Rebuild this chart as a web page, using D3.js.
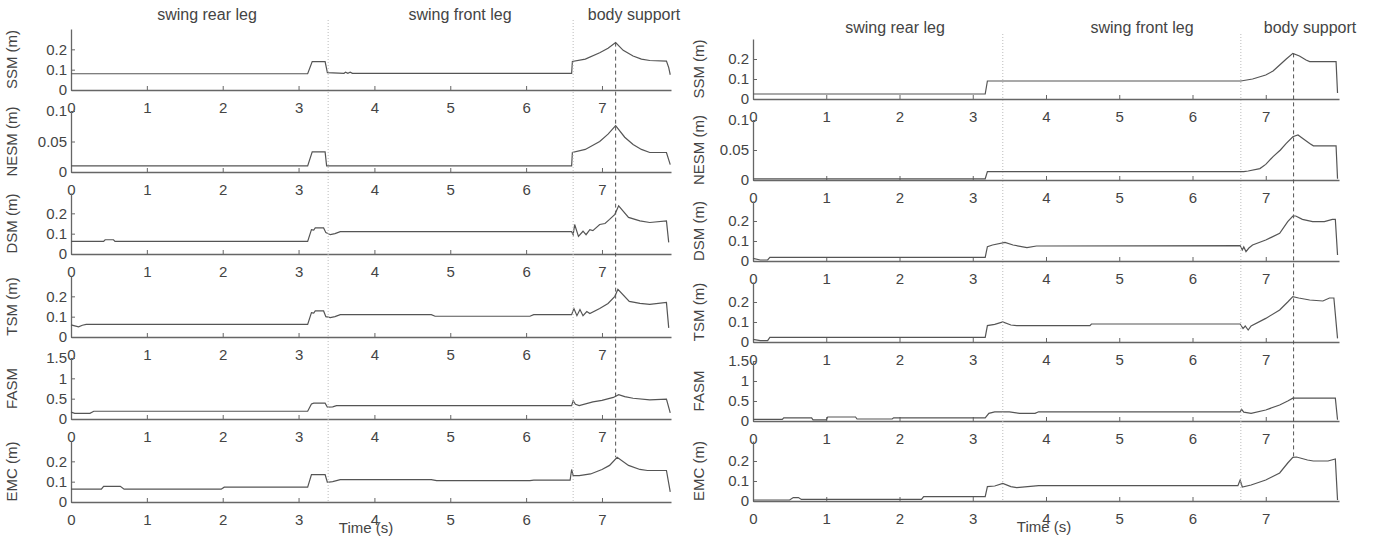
<!DOCTYPE html>
<html>
<head>
<meta charset="utf-8">
<script src="https://cdn.jsdelivr.net/npm/d3@7"></script>
<style>
  body { margin: 0; background: #fff; }
  svg text { font-family: "Liberation Sans", Arial, sans-serif; fill: #444; font-size: 15px; }
</style>
</head>
<body>
<svg id="chart" width="1375" height="542"></svg>
<script>
// Noms des lignes, domaines et graduations
const rowNames = ['SSM (m)', 'NESM (m)', 'DSM (m)', 'TSM (m)', 'FASM', 'EMC (m)'];
const rowMax = [0.3, 0.1, 0.3, 0.3, 1.5, 0.3];
const rowTicks = [[0, 0.1, 0.2], [0, 0.05, 0.1], [0, 0.1, 0.2], [0, 0.1, 0.2], [0, 0.5, 1, 1.5], [0, 0.1, 0.2]];
const xTicks = [0, 1, 2, 3, 4, 5, 6, 7];
const phaseNames = ['swing rear leg', 'swing front leg', 'body support'];

// Panneau de gauche : [temps (s), valeur]
const leftTimeMax = 7.91;
const leftPhaseTimes = [3.39, 6.62];
const leftPeakTime = 7.18;

const leftSSM = [[0, 0.08], [3.12, 0.08], [3.18, 0.14], [3.35, 0.14], [3.38, 0.085], [3.6, 0.082], [3.62, 0.088], [3.65, 0.082],
  [3.68, 0.088], [3.71, 0.082], [6.6, 0.082], [6.61, 0.14], [6.78, 0.152], [6.97, 0.183], [7.08, 0.205], [7.18, 0.233],
  [7.28, 0.195], [7.41, 0.167], [7.52, 0.152], [7.63, 0.145], [7.85, 0.142], [7.88, 0.11], [7.9, 0.075]];
const leftNESM = [[0, 0.01], [3.12, 0.01], [3.18, 0.033], [3.35, 0.033], [3.37, 0.01], [6.6, 0.01], [6.61, 0.032], [6.78, 0.037],
  [6.97, 0.05], [7.08, 0.062], [7.18, 0.076], [7.3, 0.057], [7.41, 0.045], [7.52, 0.037], [7.63, 0.032], [7.85, 0.032], [7.9, 0.012]];
const leftDSM = [[0, 0.062], [0.43, 0.062], [0.45, 0.07], [0.56, 0.07], [0.58, 0.062], [3.12, 0.062], [3.17, 0.12], [3.2, 0.118],
  [3.22, 0.128], [3.33, 0.128], [3.36, 0.105], [3.42, 0.095], [3.48, 0.1], [3.55, 0.11], [6.6, 0.11], [6.62, 0.095], [6.64, 0.145],
  [6.69, 0.087], [6.75, 0.112], [6.79, 0.095], [6.84, 0.12], [6.88, 0.115], [6.97, 0.145], [7.04, 0.15], [7.1, 0.17], [7.17, 0.195],
  [7.22, 0.237], [7.35, 0.18], [7.5, 0.163], [7.63, 0.155], [7.85, 0.163], [7.88, 0.057]];
const leftTSM = [[0, 0.06], [0.05, 0.055], [0.1, 0.05], [0.15, 0.058], [0.2, 0.062], [3.12, 0.062], [3.17, 0.12], [3.2, 0.118],
  [3.22, 0.128], [3.33, 0.128], [3.36, 0.1], [3.42, 0.095], [3.48, 0.1], [3.55, 0.11], [4.75, 0.11], [4.8, 0.102], [6.05, 0.102],
  [6.1, 0.11], [6.6, 0.11], [6.63, 0.14], [6.67, 0.105], [6.71, 0.135], [6.75, 0.105], [6.8, 0.125], [6.84, 0.115], [6.97, 0.14],
  [7.08, 0.165], [7.17, 0.2], [7.21, 0.235], [7.36, 0.175], [7.5, 0.165], [7.63, 0.16], [7.85, 0.17], [7.88, 0.045]];
const leftFASM = [[0, 0.17], [0.05, 0.14], [0.25, 0.14], [0.3, 0.19], [3.12, 0.19], [3.17, 0.37], [3.2, 0.39], [3.35, 0.39],
  [3.38, 0.29], [3.45, 0.3], [3.5, 0.33], [6.6, 0.33], [6.62, 0.45], [6.65, 0.36], [6.7, 0.33], [6.88, 0.42], [7.0, 0.46],
  [7.15, 0.53], [7.22, 0.6], [7.3, 0.55], [7.41, 0.51], [7.63, 0.47], [7.85, 0.49], [7.9, 0.15]];
const leftEMC = [[0, 0.063], [0.4, 0.063], [0.43, 0.077], [0.65, 0.077], [0.7, 0.063], [1.98, 0.063], [2.02, 0.073], [3.12, 0.073],
  [3.17, 0.135], [3.35, 0.135], [3.38, 0.097], [3.45, 0.1], [3.55, 0.11], [4.75, 0.11], [4.82, 0.105], [6.05, 0.105], [6.1, 0.108],
  [6.58, 0.108], [6.6, 0.16], [6.62, 0.13], [6.7, 0.13], [6.85, 0.138], [7.0, 0.16], [7.1, 0.18], [7.2, 0.22], [7.35, 0.18],
  [7.5, 0.16], [7.6, 0.155], [7.85, 0.155], [7.9, 0.05]];

// Panneau de droite
const rightTimeMax = 8.0;
const rightPhaseTimes = [3.41, 6.66];
const rightPeakTime = 7.38;

const rightSSM = [[0, 0.025], [3.17, 0.025], [3.2, 0.09], [6.66, 0.09], [6.82, 0.1], [7.0, 0.12], [7.1, 0.14], [7.19, 0.17],
  [7.28, 0.2], [7.37, 0.228], [7.46, 0.215], [7.55, 0.195], [7.6, 0.187], [7.96, 0.187], [7.98, 0.03]];
const rightNESM = [[0, 0.002], [3.17, 0.002], [3.2, 0.014], [6.7, 0.014], [6.76, 0.015], [6.92, 0.019], [7.0, 0.026], [7.1, 0.039],
  [7.2, 0.05], [7.28, 0.061], [7.37, 0.072], [7.44, 0.075], [7.52, 0.068], [7.6, 0.061], [7.65, 0.057], [7.96, 0.057], [7.98, 0.002]];
const rightDSM = [[0, 0.013], [0.1, 0.005], [0.2, 0.005], [0.23, 0.018], [3.17, 0.018], [3.2, 0.072], [3.27, 0.08], [3.44, 0.093],
  [3.55, 0.08], [3.74, 0.067], [3.87, 0.075], [6.65, 0.077], [6.68, 0.055], [6.7, 0.07], [6.73, 0.047], [6.77, 0.065], [6.82, 0.08],
  [7.0, 0.105], [7.19, 0.138], [7.3, 0.197], [7.37, 0.225], [7.41, 0.225], [7.5, 0.208], [7.64, 0.197], [7.8, 0.197], [7.91, 0.208],
  [7.95, 0.208], [7.98, 0.03]];
const rightTSM = [[0, 0.013], [0.1, 0.007], [0.2, 0.007], [0.23, 0.023], [3.17, 0.023], [3.2, 0.082], [3.3, 0.088], [3.41, 0.1],
  [3.52, 0.085], [3.6, 0.082], [4.6, 0.082], [4.62, 0.09], [6.65, 0.09], [6.69, 0.067], [6.72, 0.08], [6.76, 0.06], [6.8, 0.08],
  [7.0, 0.118], [7.19, 0.16], [7.3, 0.2], [7.37, 0.227], [7.45, 0.22], [7.6, 0.21], [7.78, 0.205], [7.87, 0.22], [7.93, 0.22], [7.98, 0.018]];
const rightFASM = [[0, 0.04], [0.4, 0.04], [0.42, 0.08], [0.8, 0.08], [0.82, 0.03], [1.0, 0.03], [1.02, 0.1], [1.4, 0.1], [1.42, 0.05],
  [1.9, 0.05], [1.92, 0.08], [3.17, 0.08], [3.22, 0.19], [3.3, 0.23], [3.5, 0.23], [3.64, 0.19], [3.85, 0.19], [3.9, 0.23], [6.65, 0.23],
  [6.67, 0.29], [6.7, 0.22], [6.8, 0.19], [7.0, 0.275], [7.19, 0.4], [7.3, 0.5], [7.37, 0.57], [7.95, 0.57], [7.98, 0.03]];
const rightEMC = [[0, 0.005], [0.5, 0.005], [0.55, 0.017], [0.62, 0.017], [0.66, 0.008], [2.3, 0.008], [2.33, 0.022], [3.17, 0.022],
  [3.2, 0.072], [3.3, 0.075], [3.41, 0.088], [3.52, 0.072], [3.6, 0.067], [3.9, 0.077], [6.62, 0.077], [6.65, 0.105], [6.68, 0.07],
  [6.8, 0.08], [7.0, 0.105], [7.19, 0.14], [7.3, 0.19], [7.37, 0.218], [7.42, 0.22], [7.57, 0.205], [7.65, 0.2], [7.85, 0.2],
  [7.95, 0.21], [7.98, 0.005]];

// Mise en page des deux panneaux (pixels)
const leftLayout = { x0: 71, x1: 671, bottoms: [90, 172, 254, 337, 419, 502], h: 61, labelX: 12,
  titleY: 20, titleX: [207, 460, 634], dottedTop: 20, timeX: 366 };
const rightLayout = { x0: 753, x1: 1339, bottoms: [99, 180, 261, 342, 421, 501], h: 60, labelX: 699,
  titleY: 33, titleX: [895, 1142, 1310], dottedTop: 34, timeX: 1044 };

const svg = d3.select('#chart');

// Fonction pour dessiner un panneau complet
function drawPanel(cfg, series, tMax, phaseTimes, peakTime) {
  const g = svg.append('g');
  const x = d3.scaleLinear().domain([0, tMax]).range([cfg.x0, cfg.x1]);
  const yScales = [];

  series.forEach(function (data, i) {
    const bottom = cfg.bottoms[i];
    const y = d3.scaleLinear().domain([0, rowMax[i]]).range([bottom, bottom - cfg.h]);
    yScales.push(y);

    // axe X
    const xa = g.append('g')
      .attr('transform', `translate(0,${bottom})`)
      .call(d3.axisBottom(x).tickValues(xTicks).tickSize(-4).tickSizeOuter(0).tickPadding(12).tickFormat(d => String(d)));
    // axe Y
    const ya = g.append('g')
      .attr('transform', `translate(${cfg.x0},0)`)
      .call(d3.axisLeft(y).tickValues(rowTicks[i]).tickSize(-4).tickSizeOuter(0).tickPadding(4).tickFormat(d => String(d)));

    [xa, ya].forEach(function (a) {
      a.select('.domain').attr('stroke', '#666').attr('stroke-width', 1.3);
      a.selectAll('.tick line').attr('stroke', '#666');
      a.selectAll('.tick text').attr('font-size', 15).style('fill', '#444').attr('font-family', null);
    });

    // titre de l'axe Y
    g.append('text')
      .attr('transform', `translate(${cfg.labelX},${bottom - cfg.h / 2}) rotate(-90)`)
      .attr('text-anchor', 'middle')
      .attr('dy', '0.35em')
      .text(rowNames[i]);

    // courbe
    g.append('path')
      .datum(data)
      .attr('fill', 'none')
      .attr('stroke', '#555')
      .attr('stroke-width', 1.2)
      .attr('d', d3.line().x(d => x(d[0])).y(d => y(d[1])));
  });

  // lignes pointillées des phases
  const lastBottom = cfg.bottoms[cfg.bottoms.length - 1];
  phaseTimes.forEach(function (t) {
    g.append('line')
      .attr('x1', x(t)).attr('x2', x(t))
      .attr('y1', cfg.dottedTop).attr('y2', lastBottom)
      .attr('stroke', '#bbb')
      .attr('stroke-width', 1)
      .attr('stroke-dasharray', '1,2');
  });

  // ligne tiretée du pic
  const topPeak = d3.max(series[0], d => d[1]);
  const bottomPeak = d3.max(series[series.length - 1], d => d[1]);
  g.append('line')
    .attr('x1', x(peakTime)).attr('x2', x(peakTime))
    .attr('y1', yScales[0](topPeak))
    .attr('y2', yScales[series.length - 1](bottomPeak))
    .attr('stroke', '#555')
    .attr('stroke-width', 1)
    .attr('stroke-dasharray', '4,3');

  // titres des phases
  phaseNames.forEach(function (name, i) {
    g.append('text')
      .attr('x', cfg.titleX[i])
      .attr('y', cfg.titleY)
      .attr('text-anchor', 'middle')
      .style('font-size', '16px')
      .text(name);
  });

  // titre de l'axe X
  g.append('text')
    .attr('x', cfg.timeX)
    .attr('y', lastBottom + 31)
    .attr('text-anchor', 'middle')
    .text('Time (s)');
}

drawPanel(leftLayout, [leftSSM, leftNESM, leftDSM, leftTSM, leftFASM, leftEMC], leftTimeMax, leftPhaseTimes, leftPeakTime);
drawPanel(rightLayout, [rightSSM, rightNESM, rightDSM, rightTSM, rightFASM, rightEMC], rightTimeMax, rightPhaseTimes, rightPeakTime);
</script>
</body>
</html>
